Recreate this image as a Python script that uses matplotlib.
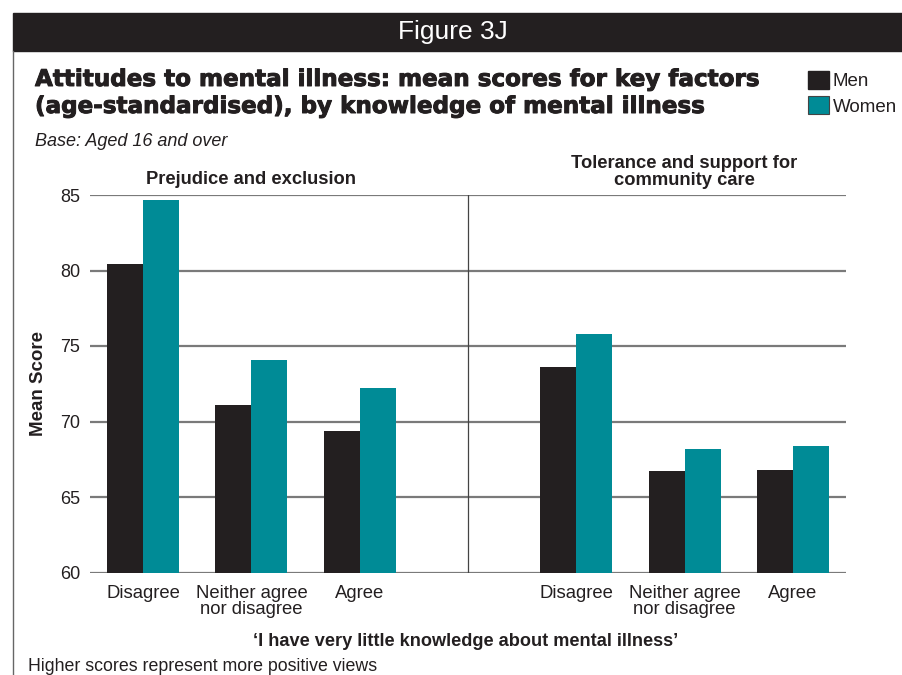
import numpy as np
import matplotlib
matplotlib.use('Agg')
from matplotlib import pyplot as plt
from matplotlib.patches import Rectangle
import matplotlib.patheffects as pe

plt.rcParams['font.family'] = ['Liberation Sans', 'DejaVu Sans']

# data
panels = ['Prejudice and exclusion', 'Tolerance and support for\ncommunity care']
answers = ['Disagree', 'Neither agree\nnor disagree', 'Agree']
men = [80.4, 71.1, 69.4, 73.6, 66.7, 66.8]
women = [84.7, 74.1, 72.2, 75.8, 68.2, 68.4]
yticks = [60, 65, 70, 75, 80, 85]

men_col = '#231f20'
women_col = '#008b96'
txt = '#231f20'

W, H = 902, 675
fig = plt.figure(figsize=(W/100, H/100), dpi=100)

def fx(px):
    return px / W

def fy(py):
    return 1 - py / H

# header bar and left border
fig.patches.append(Rectangle((fx(13), fy(51)), 1 - fx(13), 38/H,
                             transform=fig.transFigure, color='#231f20', zorder=0))
fig.add_artist(plt.Line2D([fx(13), fx(13)], [0, fy(51)], transform=fig.transFigure,
                          color='#666666', lw=1))
fig.text(fx(453), fy(32), 'Figure 3J', color='white', fontsize=19,
         ha='center', va='center')

for line, base in [('Attitudes to mental illness: mean scores for key factors', 86),
                   ('(age-standardised), by knowledge of mental illness', 113)]:
    t = fig.text(fx(35), fy(base), line, fontsize=16.6, fontweight='bold',
                 family='DejaVu Sans', color=txt, va='baseline')
    t.set_path_effects([pe.withStroke(linewidth=0.7, foreground=txt)])

fig.text(fx(35), fy(146), 'Base: Aged 16 and over', fontsize=13, style='italic',
         color=txt, va='baseline')

# legend boxes
fig.patches.append(Rectangle((fx(808), fy(89)), 21/W, 18/H, transform=fig.transFigure,
                             facecolor=men_col, edgecolor=men_col))
fig.patches.append(Rectangle((fx(808), fy(114)), 21/W, 18/H, transform=fig.transFigure,
                             facecolor=women_col, edgecolor='#444444', lw=0.8))
fig.text(fx(833), fy(86), 'Men', fontsize=13.5, va='baseline', color=txt)
fig.text(fx(833), fy(112), 'Women', fontsize=13.5, va='baseline', color=txt)

ax_w = (846 - 90) / W
ax = fig.add_axes([fx(90), fy(572.5), ax_w, (572.5 - 195)/H])
x = np.array([0, 1, 2, 4, 5, 6])
w = 0.332
ax.bar(x - w/2, np.array(men) - 60, w, bottom=60, color=men_col, zorder=3)
ax.bar(x + w/2, np.array(women) - 60, w, bottom=60, color=women_col, zorder=3)
ax.set_xlim(-0.49, 6.49)
ax.set_ylim(60, 85)
ax.set_yticks(yticks)
ax.set_yticklabels([str(t) for t in yticks], fontsize=13, color=txt)
ax.yaxis.grid(True, color='#7a7a7a', lw=1.6, zorder=1)
ax.set_xticks(x)
ax.set_xticklabels(answers * 2, fontsize=13.3, linespacing=0.95, color=txt)
ax.tick_params(axis='y', length=0, pad=7)
ax.tick_params(axis='x', length=0, pad=9)
for s in ['top', 'right', 'left', 'bottom']:
    ax.spines[s].set_visible(False)
ax.axvline(3, color='#444444', lw=0.9, zorder=2)
ax.set_ylabel('Mean Score', fontsize=13.5, fontweight='bold', color=txt)
ax.yaxis.set_label_coords((47 - 90) / W / ax_w, 0.5)

ax.text(1, 85 + 11/15.1, panels[0], ha='center', va='baseline', fontsize=13.2,
        fontweight='bold', color=txt)
ax.text(5, 85 + 10/15.1, panels[1], ha='center', va='baseline', fontsize=13.2,
        fontweight='bold', color=txt, linespacing=1.0)

fig.text(fx(466), fy(646), '\u2018I have very little knowledge about mental illness\u2019',
         ha='center', va='baseline', fontsize=13.1, fontweight='bold', color=txt)
fig.text(fx(28), fy(671), 'Higher scores represent more positive views',
         fontsize=12.8, va='baseline', color=txt)

fig.savefig('out.png', dpi=100)
